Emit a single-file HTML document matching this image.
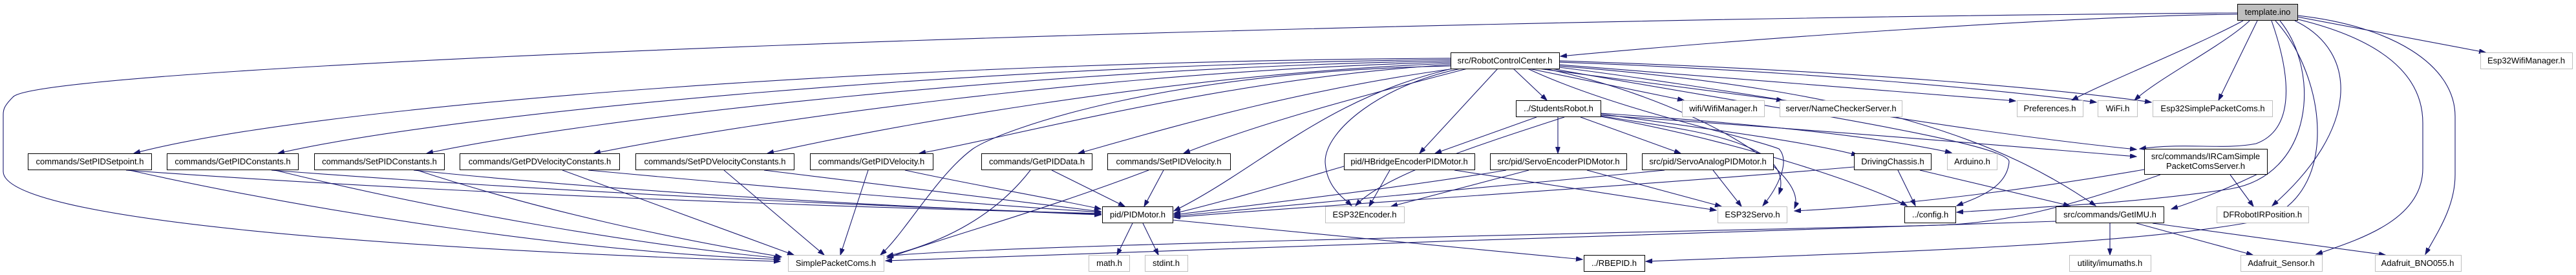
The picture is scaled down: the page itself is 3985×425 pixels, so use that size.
<!DOCTYPE html>
<html><head><meta charset="utf-8"><style>
html,body{margin:0;padding:0;background:#fff;}
svg{display:block;}
text{font-family:"Liberation Sans",sans-serif;font-size:13px;fill:#000;}
</style></head><body>
<svg width="3985" height="425" viewBox="0 0 3985 425" xmlns="http://www.w3.org/2000/svg">
<defs>
<marker id="a" markerUnits="userSpaceOnUse" markerWidth="11" markerHeight="8" refX="10" refY="3.5" orient="auto">
<path d="M0,0 L10,3.5 L0,7 z" fill="#191970" stroke="#191970"/>
</marker>
</defs>
<g fill="none" stroke="#191970" stroke-width="1.1" marker-end="url(#a)">
<!-- template.ino edges -->
<path d="M3461,22 C3200,25 2700,60 2414,87"/>
<path d="M3461,20 C2000,30 60,100 20,150 C5,165 5,170 5,180 L5,265 C5,340 600,385 1207,404"/>
<path d="M3470,32 C3400,70 3250,130 3205,155"/>
<path d="M3480,32 C3440,70 3340,120 3302,155"/>
<path d="M3492,32 L3432,155"/>
<path d="M3554,26 L3845,81"/>
<path d="M3550,32 C3650,80 3650,200 3515,318"/>
<path d="M3555,30 C3720,70 3748,140 3748,190 L3748,260 C3748,340 3650,370 3583,393"/>
<path d="M3554,24 C3700,40 3798,100 3798,180 L3798,270 C3798,320 3770,360 3752,393"/>
<path d="M3514,32 C3545,120 3550,200 3490,222 C3440,232 3380,220 3310,230"/>
<path d="M3527,32 C3590,110 3580,270 3450,292 C3300,315 3150,320 3027,328"/>
<path d="M3520,32 C3600,120 3620,300 3500,340 C3300,380 2900,390 2546,404"/>
<!-- RCC edges -->
<path d="M2244,90 C1400,95 500,160 207,237"/>
<path d="M2244,92 C1500,100 700,175 430,237"/>
<path d="M2244,94 C1600,105 900,185 660,237"/>
<path d="M2244,96 C1700,110 1150,190 919,237"/>
<path d="M2244,98 C1800,115 1350,200 1187,237"/>
<path d="M2244,100 C1900,120 1550,215 1422,237"/>
<path d="M2250,106 C2000,140 1800,200 1668,237"/>
<path d="M2270,106 C2100,150 1950,190 1831,237"/>
<path d="M2317,106 L2196,237"/>
<path d="M2341,106 L2393,155"/>
<path d="M2365,106 L2605,155"/>
<path d="M2380,106 L2758,155"/>
<path d="M2412,100 L3118,156"/>
<path d="M2412,96 C2800,110 3100,140 3243,158"/>
<path d="M2412,94 C2900,110 3200,140 3328,158"/>
<path d="M2255,104 C2050,150 1950,260 1816,326"/>
<path d="M2244,102 C1800,110 1550,200 1505,230 C1450,270 1400,360 1362,394"/>
<path d="M2260,106 C2140,130 2050,200 2050,250 C2052,290 2078,305 2091,318"/>
<path d="M2363,106 C2500,170 2700,210 2752,230 C2770,250 2750,290 2727,318"/>
<path d="M2412,104 C2700,140 3000,200 3305,231"/>
<path d="M2400,106 C2700,160 3110,220 3108,250 C3105,290 3060,305 3027,318"/>
<path d="M2412,102 C2900,140 3100,220 3242,318"/>
<path d="M2390,106 C2600,150 2800,260 2776,322"/>
<!-- StudentsRobot edges -->
<path d="M2377,181 L2220,237"/>
<path d="M2410,181 L2410,237"/>
<path d="M2445,181 L2600,237"/>
<path d="M2476,176 C2650,200 2800,220 2874,240"/>
<path d="M2476,175 C2700,190 2900,210 3019,236"/>
<path d="M2476,178 C2800,200 3100,225 3305,242"/>
<path d="M2476,180 C2700,220 2900,290 2950,318"/>
<path d="M2420,181 C2300,220 2140,270 2097,318"/>
<path d="M2476,179 C2600,200 2780,215 2752,300"/>
<!-- commands -> PIDMotor / Simple -->
<path d="M195,263 C700,300 1300,320 1703,330"/>
<path d="M200,263 C500,330 900,390 1207,401"/>
<path d="M420,263 C900,300 1400,320 1703,331"/>
<path d="M425,263 C700,330 1000,380 1207,399"/>
<path d="M640,263 C1000,300 1400,320 1703,332"/>
<path d="M645,263 C850,330 1050,370 1209,397"/>
<path d="M870,263 L1228,394"/>
<path d="M910,263 C1200,290 1500,315 1703,328"/>
<path d="M1120,263 L1275,394"/>
<path d="M1182,263 C1400,290 1600,315 1703,327"/>
<path d="M1343,263 L1300,394"/>
<path d="M1400,263 C1500,285 1620,305 1703,323"/>
<path d="M1594,263 C1550,320 1480,370 1372,396"/>
<path d="M1627,263 L1740,319"/>
<path d="M1777,263 C1600,330 1450,370 1372,399"/>
<path d="M1800,263 L1770,319"/>
<!-- motors -->
<path d="M2079,257 C2000,280 1900,310 1816,330"/>
<path d="M2150,263 L2118,319"/>
<path d="M2250,263 L2655,325"/>
<path d="M2330,263 C2200,285 2000,310 1816,332"/>
<path d="M2365,263 L2152,319"/>
<path d="M2455,263 L2663,319"/>
<path d="M2575,263 C2300,290 2000,315 1816,334"/>
<path d="M2650,263 L2694,319"/>
<path d="M2868,258 C2500,290 2000,320 1816,336"/>
<path d="M2936,263 L2963,318"/>
<path d="M2970,263 L3202,318"/>
<!-- PIDMotor -->
<path d="M1752,345 L1728,394"/>
<path d="M1768,345 L1792,394"/>
<path d="M1814,340 L2448,401"/>
<!-- IRCam -->
<path d="M3450,270 L3486,319"/>
<path d="M3342,270 C3200,320 3100,345 3000,348 C2500,360 1500,380 1372,396"/>
<path d="M3317,262 C3100,300 2900,320 2776,326"/>
<path d="M3507,262 C3450,290 3400,310 3359,323"/>
<!-- GetIMU -->
<path d="M3264,345 L3264,394"/>
<path d="M3305,345 L3485,394"/>
<path d="M3330,345 L3690,394"/>
<path d="M3180,342 C2800,356 1800,385 1370,403"/>
</g>
<g stroke-width="1">
<rect x="3461.5" y="6.5" width="93" height="25" fill="#bfbfbf" stroke="#000"/>
<text x="3508" y="23" text-anchor="middle">template.ino</text>
<rect x="2244.5" y="81.5" width="168" height="25" fill="#fff" stroke="#000"/>
<text x="2328" y="98" text-anchor="middle">src/RobotControlCenter.h</text>
<rect x="3837.5" y="81.5" width="142" height="25" fill="#fff" stroke="#bfbfbf"/>
<text x="3908" y="98" text-anchor="middle">Esp32WifiManager.h</text>

<rect x="2345.5" y="155.5" width="131" height="25" fill="#fff" stroke="#000"/>
<text x="2411" y="172" text-anchor="middle">../StudentsRobot.h</text>
<rect x="2602.5" y="155.5" width="127" height="25" fill="#fff" stroke="#bfbfbf"/>
<text x="2666" y="172" text-anchor="middle">wifi/WifiManager.h</text>
<rect x="2753.5" y="155.5" width="189" height="25" fill="#fff" stroke="#bfbfbf"/>
<text x="2848" y="172" text-anchor="middle">server/NameCheckerServer.h</text>
<rect x="3120.5" y="155.5" width="102" height="25" fill="#fff" stroke="#bfbfbf"/>
<text x="3171" y="172" text-anchor="middle">Preferences.h</text>
<rect x="3245.5" y="155.5" width="61" height="25" fill="#fff" stroke="#bfbfbf"/>
<text x="3276" y="172" text-anchor="middle">WiFi.h</text>
<rect x="3330.5" y="155.5" width="185" height="25" fill="#fff" stroke="#bfbfbf"/>
<text x="3423" y="172" text-anchor="middle">Esp32SimplePacketComs.h</text>

<rect x="43.5" y="237.5" width="191" height="25" fill="#fff" stroke="#000"/>
<text x="139" y="254" text-anchor="middle">commands/SetPIDSetpoint.h</text>
<rect x="258.5" y="237.5" width="203" height="25" fill="#fff" stroke="#000"/>
<text x="360" y="254" text-anchor="middle">commands/GetPIDConstants.h</text>
<rect x="486.5" y="237.5" width="201" height="25" fill="#fff" stroke="#000"/>
<text x="587" y="254" text-anchor="middle">commands/SetPIDConstants.h</text>
<rect x="711.5" y="237.5" width="247" height="25" fill="#fff" stroke="#000"/>
<text x="835" y="254" text-anchor="middle">commands/GetPDVelocityConstants.h</text>
<rect x="983.5" y="237.5" width="245" height="25" fill="#fff" stroke="#000"/>
<text x="1106" y="254" text-anchor="middle">commands/SetPDVelocityConstants.h</text>
<rect x="1253.5" y="237.5" width="190" height="25" fill="#fff" stroke="#000"/>
<text x="1348" y="254" text-anchor="middle">commands/GetPIDVelocity.h</text>
<rect x="1518.5" y="237.5" width="171" height="25" fill="#fff" stroke="#000"/>
<text x="1604" y="254" text-anchor="middle">commands/GetPIDData.h</text>
<rect x="1713.5" y="237.5" width="190" height="25" fill="#fff" stroke="#000"/>
<text x="1808" y="254" text-anchor="middle">commands/SetPIDVelocity.h</text>
<rect x="2079.5" y="237.5" width="202" height="25" fill="#fff" stroke="#000"/>
<text x="2180" y="254" text-anchor="middle">pid/HBridgeEncoderPIDMotor.h</text>
<rect x="2305.5" y="237.5" width="211" height="25" fill="#fff" stroke="#000"/>
<text x="2411" y="254" text-anchor="middle">src/pid/ServoEncoderPIDMotor.h</text>
<rect x="2540.5" y="237.5" width="203" height="25" fill="#fff" stroke="#000"/>
<text x="2642" y="254" text-anchor="middle">src/pid/ServoAnalogPIDMotor.h</text>
<rect x="2868.5" y="237.5" width="119" height="25" fill="#fff" stroke="#000"/>
<text x="2928" y="254" text-anchor="middle">DrivingChassis.h</text>
<rect x="3012.5" y="237.5" width="77" height="25" fill="#fff" stroke="#bfbfbf"/>
<text x="3051" y="254" text-anchor="middle">Arduino.h</text>
<rect x="3317.5" y="230.5" width="190" height="39" fill="#fff" stroke="#000"/>
<text x="3412" y="246" text-anchor="middle">src/commands/IRCamSimple</text>
<text x="3412" y="261" text-anchor="middle">PacketComsServer.h</text>

<rect x="1705.5" y="319.5" width="109" height="25" fill="#fff" stroke="#000"/>
<text x="1760" y="336" text-anchor="middle">pid/PIDMotor.h</text>
<rect x="2050.5" y="319.5" width="122" height="25" fill="#fff" stroke="#bfbfbf"/>
<text x="2111" y="336" text-anchor="middle">ESP32Encoder.h</text>
<rect x="2657.5" y="319.5" width="107" height="25" fill="#fff" stroke="#bfbfbf"/>
<text x="2711" y="336" text-anchor="middle">ESP32Servo.h</text>
<rect x="2946.5" y="319.5" width="79" height="25" fill="#fff" stroke="#000"/>
<text x="2986" y="336" text-anchor="middle">../config.h</text>
<rect x="3180.5" y="319.5" width="167" height="25" fill="#fff" stroke="#000"/>
<text x="3264" y="336" text-anchor="middle">src/commands/GetIMU.h</text>
<rect x="3429.5" y="319.5" width="142" height="25" fill="#fff" stroke="#bfbfbf"/>
<text x="3500" y="336" text-anchor="middle">DFRobotIRPosition.h</text>

<rect x="1219.5" y="394.5" width="148" height="25" fill="#fff" stroke="#bfbfbf"/>
<text x="1293" y="411" text-anchor="middle">SimplePacketComs.h</text>
<rect x="1684.5" y="394.5" width="63" height="25" fill="#fff" stroke="#bfbfbf"/>
<text x="1716" y="411" text-anchor="middle">math.h</text>
<rect x="1771.5" y="394.5" width="66" height="25" fill="#fff" stroke="#bfbfbf"/>
<text x="1804" y="411" text-anchor="middle">stdint.h</text>
<rect x="2450.5" y="394.5" width="94" height="25" fill="#fff" stroke="#000"/>
<text x="2497" y="411" text-anchor="middle">../RBEPID.h</text>
<rect x="3201.5" y="394.5" width="126" height="25" fill="#fff" stroke="#bfbfbf"/>
<text x="3264" y="411" text-anchor="middle">utility/imumaths.h</text>
<rect x="3466.5" y="394.5" width="126" height="25" fill="#fff" stroke="#bfbfbf"/>
<text x="3529" y="411" text-anchor="middle">Adafruit_Sensor.h</text>
<rect x="3674.5" y="394.5" width="133" height="25" fill="#fff" stroke="#bfbfbf"/>
<text x="3740" y="411" text-anchor="middle">Adafruit_BNO055.h</text>
</g>
</svg>
</body></html>
